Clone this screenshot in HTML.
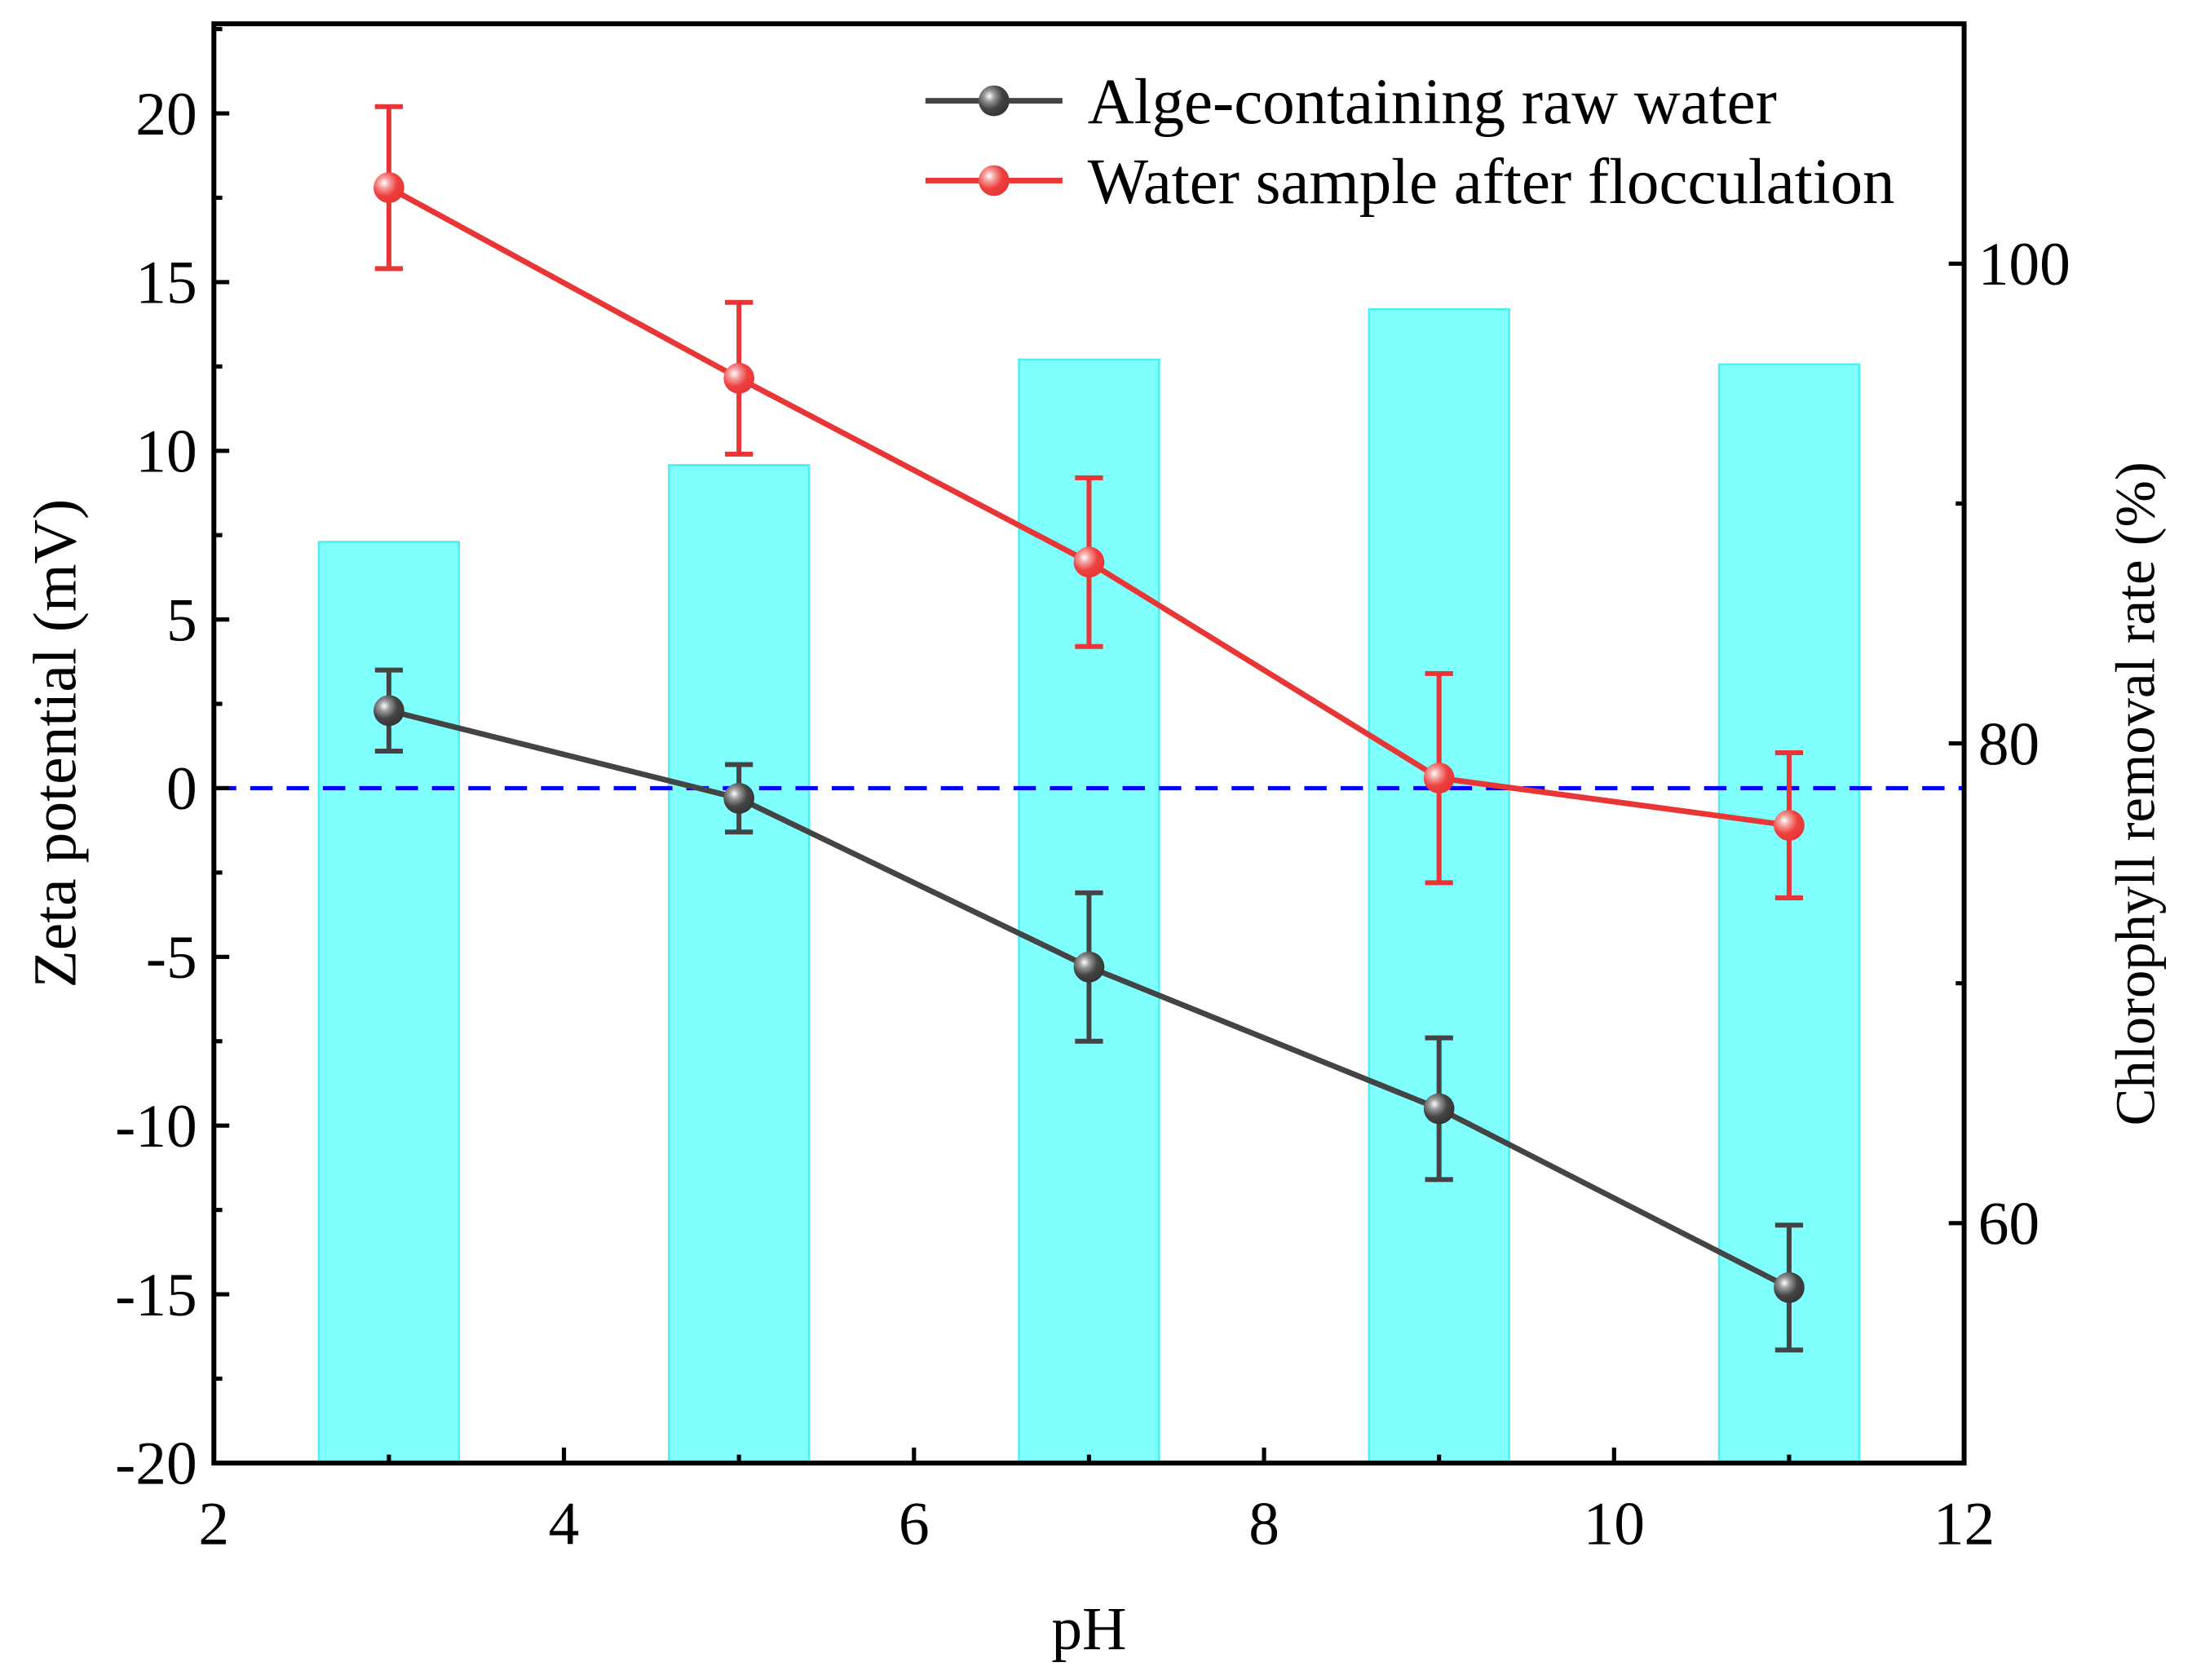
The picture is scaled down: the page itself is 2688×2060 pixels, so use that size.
<!DOCTYPE html>
<html><head><meta charset="utf-8"><style>
html,body{margin:0;padding:0;background:#fff;}
svg{display:block;}
text{font-family:"Liberation Serif","Times New Roman",serif;fill:#000;}
</style></head><body>
<svg id="chart" width="2688" height="2060" viewBox="0 0 1568 1200" preserveAspectRatio="none">
<defs>
<radialGradient id="gBlack" cx="0.35" cy="0.35" r="0.7"><stop offset="0" stop-color="#fff"/><stop offset="0.25" stop-color="#999"/><stop offset="0.6" stop-color="#444"/><stop offset="1" stop-color="#333"/></radialGradient>
<radialGradient id="gRed" cx="0.35" cy="0.35" r="0.7"><stop offset="0" stop-color="#fff"/><stop offset="0.25" stop-color="#f5a0a0"/><stop offset="0.6" stop-color="#ee4040"/><stop offset="1" stop-color="#e83535"/></radialGradient>
</defs>
<g id="bars"></g>
<line x1="153" x2="1405" y1="563" y2="563" stroke="#0000ff" stroke-width="3" stroke-dasharray="16,10"/>
<g id="series"></g>
<rect x="153" y="17" width="1252" height="1028" fill="none" stroke="#000" stroke-width="3.5"/>
<g id="axes"></g>
<text x="779" y="1178" font-size="44" text-anchor="middle">pH</text>
<text transform="translate(54,531) rotate(-90)" font-size="44" text-anchor="middle">Zeta potential (mV)</text>
<text transform="translate(1541,567) rotate(-90)" font-size="40" text-anchor="middle">Chlorophyll removal rate (%)</text>
<g>
<g>
<line x1="662" x2="760" y1="72" y2="72" stroke="#444" stroke-width="4"/>
<circle cx="711" cy="72" r="11" fill="url(#gBlack)"/>
<text x="778" y="88" font-size="46">Alge-containing raw water</text></g>
<g>
<line x1="662" x2="760" y1="129" y2="129" stroke="#e83535" stroke-width="4"/>
<circle cx="711" cy="129" r="11" fill="url(#gRed)"/>
<text x="778" y="145" font-size="46">Water sample after flocculation</text></g>
</g>
</svg>
<script>
const phValues=[3,5,7,9,11];
const removalRate=[88.4,91.6,96.0,98.1,95.8];
const rawZeta=[2.3,-0.3,-5.3,-9.5,-14.8];
const rawErr=[1.2,1.0,2.2,2.1,1.85];
const flocZeta=[17.8,12.15,6.7,0.3,-1.1];
const flocErr=[2.4,2.25,2.5,3.1,2.15];
const xTicks=[2,4,6,8,10,12];
const yLeftTicks=[-20,-15,-10,-5,0,5,10,15,20];
const yRightTicks=[60,80,100];

const NS='http://www.w3.org/2000/svg';
const L=153,R=1405,T=17,B=1045;
const xs=v=>L+(v-2)/10*(R-L);
const yl=v=>563-v*24.1;
const yr=v=>B-(v-50)/60*(B-T);
function mk(tag,attrs,parent){const e=document.createElementNS(NS,tag);for(const k in attrs)e.setAttribute(k,attrs[k]);parent.appendChild(e);return e;}

const bars=document.getElementById('bars');
phValues.forEach((p,i)=>{
  const r=mk('rect',{x:xs(p-0.4),y:yr(removalRate[i]),width:xs(p+0.4)-xs(p-0.4),height:B-yr(removalRate[i]),fill:'#80ffff',stroke:'#4df0f0','stroke-width':1.5},bars);
  
  
});

const series=document.getElementById('series');
function drawSeries(vals,errs,color,grad,name){
  const g=mk('g',{},series);
  
  
  mk('polyline',{points:phValues.map((p,i)=>xs(p)+','+yl(vals[i])).join(' '),fill:'none',stroke:color,'stroke-width':4},g);
  phValues.forEach((p,i)=>{
    const x=xs(p),y1=yl(vals[i]+errs[i]),y2=yl(vals[i]-errs[i]);
    const eb=mk('path',{d:`M${x},${y1}V${y2}M${x-10},${y1}H${x+10}M${x-10},${y2}H${x+10}`,stroke:color,'stroke-width':3.5,fill:'none'},g);
    
    
    const c=mk('circle',{cx:x,cy:yl(vals[i]),r:11,fill:'url(#'+grad+')'},g);
    
    
  });
}
drawSeries(rawZeta,rawErr,'#444','gBlack','raw-water-series');
drawSeries(flocZeta,flocErr,'#e83535','gRed','flocculation-series');

const axes=document.getElementById('axes');
xTicks.forEach(v=>{
  mk('line',{x1:xs(v),x2:xs(v),y1:B,y2:B-11,stroke:'#000','stroke-width':3},axes);
  if(v<12)mk('line',{x1:xs(v+1),x2:xs(v+1),y1:B,y2:B-6,stroke:'#000','stroke-width':3},axes);
  const t=mk('text',{x:xs(v),y:B+58,'font-size':44,'text-anchor':'middle'},axes);t.textContent=v;
  
  
});
yLeftTicks.forEach(v=>{
  mk('line',{x1:L,x2:L+11,y1:yl(v),y2:yl(v),stroke:'#000','stroke-width':3},axes);
  const m=yl(v+2.5);if(m>T)mk('line',{x1:L,x2:L+6,y1:m,y2:m,stroke:'#000','stroke-width':3},axes);
  const t=mk('text',{x:L-12,y:yl(v)+15,'font-size':44,'text-anchor':'end'},axes);t.textContent=v;
  
  
});
yRightTicks.forEach(v=>{
  mk('line',{x1:R,x2:R-11,y1:yr(v),y2:yr(v),stroke:'#000','stroke-width':3},axes);
  const t=mk('text',{x:R+10,y:yr(v)+15,'font-size':44},axes);t.textContent=v;
  
  
});
[50,70,90,110].forEach(v=>{const y=yr(v);if(y>T&&y<B)mk('line',{x1:R,x2:R-6,y1:y,y2:y,stroke:'#000','stroke-width':3},axes);});
</script>
</body></html>
